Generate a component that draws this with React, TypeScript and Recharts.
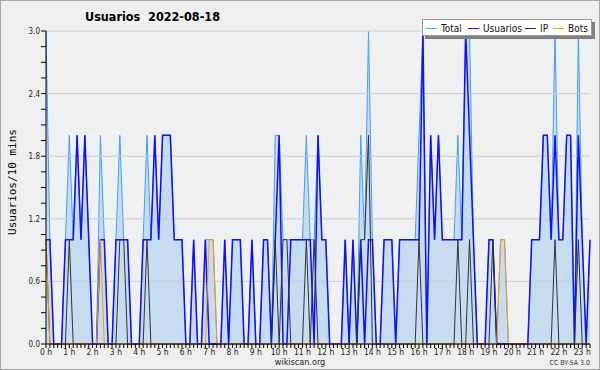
import {
    ComposedChart,
    Area,
    Line,
    XAxis,
    YAxis,
    CartesianGrid,
    ReferenceLine,
} from "recharts";

// 10-minute slots, 0:00 .. 23:20
const TOTAL = [
    3, 1, 0, 0, 0, 1, 2, 1, 2, 1, 2, 1, 0, 0, 2, 1, 0, 0, 1, 2, 1, 1, 0, 0,
    0, 1, 2, 1, 2, 1, 2, 2, 2, 1, 1, 1, 0, 0, 1, 0, 0, 1, 1, 1, 0, 0, 1, 0,
    1, 1, 1, 0, 0, 1, 0, 0, 1, 1, 0, 2, 2, 1, 1, 1, 1, 1, 1, 2, 1, 1, 2, 1,
    1, 0, 0, 0, 0, 1, 0, 1, 0, 2, 1, 3, 1, 0, 0, 1, 1, 1, 0, 1, 1, 1, 1, 1,
    2, 3, 0, 2, 1, 2, 1, 1, 1, 1, 2, 1, 3, 3, 1, 0, 0, 0, 1, 1, 0, 1, 1, 0,
    0, 0, 0, 0, 0, 1, 1, 1, 2, 2, 1, 3, 1, 1, 2, 2, 0, 3, 1, 0, 1,
];
const USUARIOS = [
    1, 1, 0, 0, 0, 1, 1, 1, 2, 1, 2, 1, 0, 0, 1, 1, 0, 0, 1, 1, 1, 1, 0, 0,
    0, 1, 1, 1, 2, 1, 2, 2, 2, 1, 1, 1, 0, 0, 1, 0, 0, 1, 0, 0, 0, 0, 1, 0,
    1, 1, 1, 0, 0, 1, 0, 0, 1, 1, 0, 1, 2, 0, 0, 1, 1, 1, 1, 1, 1, 0, 2, 1,
    1, 0, 0, 0, 0, 1, 0, 1, 0, 1, 0, 1, 1, 0, 0, 1, 1, 1, 0, 1, 1, 1, 1, 1,
    1, 3, 0, 2, 1, 2, 1, 1, 1, 1, 1, 1, 3, 2, 1, 0, 0, 0, 1, 1, 0, 0, 0, 0,
    0, 0, 0, 0, 0, 1, 1, 1, 2, 2, 1, 2, 1, 1, 2, 2, 0, 2, 1, 0, 1,
];
const IP = [
    1, 0, 0, 0, 0, 0, 1, 0, 0, 0, 0, 0, 0, 0, 0, 0, 0, 0, 0, 1, 1, 0, 0, 0,
    0, 0, 1, 0, 0, 0, 0, 0, 0, 0, 0, 0, 0, 0, 0, 0, 0, 0, 0, 0, 0, 0, 0, 0,
    0, 0, 0, 0, 0, 0, 0, 0, 0, 0, 0, 1, 0, 1, 1, 0, 0, 0, 0, 1, 0, 1, 0, 0,
    0, 0, 0, 0, 0, 0, 0, 0, 0, 1, 1, 2, 0, 0, 0, 0, 0, 0, 0, 0, 0, 0, 0, 0,
    1, 0, 0, 0, 0, 0, 0, 0, 0, 0, 1, 0, 0, 1, 0, 0, 0, 0, 0, 1, 0, 0, 0, 0,
    0, 0, 0, 0, 0, 0, 0, 0, 0, 0, 0, 1, 0, 0, 0, 0, 0, 1, 0, 0, 0,
];
const BOTS = [
    1, 0, 0, 0, 0, 0, 0, 0, 0, 0, 0, 0, 0, 0, 1, 0, 0, 0, 0, 0, 0, 0, 0, 0,
    0, 0, 0, 0, 0, 0, 0, 0, 0, 0, 0, 0, 0, 0, 0, 0, 0, 0, 1, 1, 0, 0, 0, 0,
    0, 0, 0, 0, 0, 0, 0, 0, 0, 0, 0, 0, 0, 0, 0, 0, 0, 0, 0, 0, 0, 0, 0, 0,
    0, 0, 0, 0, 0, 0, 0, 0, 0, 0, 0, 0, 0, 0, 0, 0, 0, 0, 0, 0, 0, 0, 0, 0,
    0, 0, 0, 0, 0, 0, 0, 0, 0, 0, 0, 0, 0, 0, 0, 0, 0, 0, 0, 0, 0, 1, 1, 0,
    0, 0, 0, 0, 0, 0, 0, 0, 0, 0, 0, 0, 0, 0, 0, 0, 0, 0, 0, 0, 0,
];

const HOUR_LABELS = [
    "0 h", "1 h", "2 h", "3 h", "4 h", "5 h", "6 h", "7 h", "8 h", "9 h",
    "10 h", "11 h", "12 h", "13 h", "14 h", "15 h", "16 h", "17 h", "18 h",
    "19 h", "20 h", "21 h", "22 h", "23 h",
];
const Y_TICKS = [
    0, 0.15, 0.3, 0.45, 0.6, 0.75, 0.9, 1.05, 1.2, 1.35, 1.5, 1.65, 1.8, 1.95,
    2.1, 2.25, 2.4, 2.55, 2.7, 2.85, 3,
];
const Y_MAJOR = [0.6, 1.2, 1.8, 2.4, 3];

const data = TOTAL.map((t, i) => ({
    slot: i,
    total: t,
    usuarios: USUARIOS[i],
    ip: IP[i],
    bots: BOTS[i],
}));
const slots = data.map((d) => d.slot);

const FONT = '"DejaVu Sans Condensed", "DejaVu Sans", sans-serif';

// eslint-disable-next-line @typescript-eslint/no-explicit-any
function XTick({ x, y, payload }: any) {
    const v = payload.value;
    const isHour = v % 6 === 0;
    return (
        <g>
            <line x1={x} x2={x} y1={y} y2={y + 4} stroke="#000" />
            {isHour && (
                <text
                    x={x}
                    y={y + 11}
                    textAnchor="middle"
                    fontSize={8.5}
                    fontFamily={FONT}
                    fill="#222"
                >
                    {HOUR_LABELS[v / 6]}
                </text>
            )}
        </g>
    );
}

// eslint-disable-next-line @typescript-eslint/no-explicit-any
function YTick({ x, y, payload }: any) {
    const v = payload.value;
    const isMajor = Math.abs(v / 0.6 - Math.round(v / 0.6)) < 1e-6;
    return (
        <g>
            <line x1={x - 5} x2={x} y1={y} y2={y} stroke="#000" />
            {isMajor && (
                <text
                    x={x - 6}
                    y={y + 3}
                    textAnchor="end"
                    fontSize={8}
                    fontFamily={FONT}
                    fill="#222"
                >
                    {v.toFixed(1)}
                </text>
            )}
        </g>
    );
}

// legend entries with their left offset inside the box
const LEGEND = [
    { name: "Total", color: "#3fa0ff", left: 3 },
    { name: "Usuarios", color: "#1010ff", left: 45 },
    { name: "IP", color: "#333333", left: 102 },
    { name: "Bots", color: "#ff9900", left: 130 },
];

export default function App() {
    return (
        <div
            style={{
                position: "absolute",
                left: 0,
                top: 0,
                width: 600,
                height: 370,
                background: "#efefef",
                fontFamily: FONT,
            }}
        >
            <ComposedChart
                width={600}
                height={370}
                data={data}
                margin={{ top: 31, right: 10, bottom: 0, left: 0 }}
            >
                <CartesianGrid
                    horizontal={false}
                    vertical={false}
                    fill="#eef0f2"
                />
                {Y_MAJOR.map((v) => (
                    <ReferenceLine key={v} y={v} stroke="#cdcdcd" />
                ))}
                <XAxis
                    type="number"
                    dataKey="slot"
                    domain={[0, slots.length - 1]}
                    ticks={slots}
                    interval={0}
                    tick={<XTick />}
                    tickLine={false}
                    tickSize={0}
                    tickMargin={0}
                    height={26}
                    axisLine={{ stroke: "#000" }}
                />
                <YAxis
                    type="number"
                    domain={[0, 3]}
                    ticks={Y_TICKS}
                    interval={0}
                    tick={<YTick />}
                    tickLine={false}
                    tickSize={0}
                    tickMargin={0}
                    width={46}
                    axisLine={{ stroke: "#000" }}
                />
                <Area
                    type="linear"
                    dataKey="total"
                    stroke="#3fa0ff"
                    strokeWidth={1}
                    fill="#c5dcf1"
                    fillOpacity={1}
                    dot={false}
                    isAnimationActive={false}
                />
                <Line
                    type="linear"
                    dataKey="usuarios"
                    stroke="#1010ff"
                    strokeWidth={1.5}
                    dot={false}
                    isAnimationActive={false}
                />
                <Line
                    type="linear"
                    dataKey="ip"
                    stroke="#333333"
                    strokeWidth={1}
                    dot={false}
                    isAnimationActive={false}
                />
                <Line
                    type="linear"
                    dataKey="bots"
                    stroke="#ff9900"
                    strokeWidth={1}
                    dot={false}
                    isAnimationActive={false}
                />
            </ComposedChart>

            {/* title */}
            <div
                style={{
                    position: "absolute",
                    left: 85,
                    top: 9,
                    fontSize: 12.5,
                    fontWeight: "bold",
                    color: "#000",
                    whiteSpace: "pre",
                }}
            >
                {"Usuarios  2022-08-18"}
            </div>

            {/* legend box top-right */}
            <div
                style={{
                    position: "absolute",
                    left: 422,
                    top: 19,
                    width: 170,
                    height: 17,
                    background: "#fff",
                    border: "1px solid #999",
                    boxShadow: "3px 3px 0 #808080",
                    fontSize: 10,
                    color: "#111",
                    boxSizing: "border-box",
                }}
            >
                {LEGEND.map((l) => (
                    <span
                        key={l.name}
                        style={{
                            position: "absolute",
                            left: l.left,
                            top: 1,
                            height: 14,
                            display: "flex",
                            alignItems: "center",
                            whiteSpace: "nowrap",
                        }}
                    >
                        <span
                            style={{
                                display: "inline-block",
                                width: 11,
                                height: 1,
                                background: l.color,
                                marginRight: 4,
                            }}
                        />
                        {l.name}
                    </span>
                ))}
            </div>

            {/* y axis title */}
            <div
                style={{
                    position: "absolute",
                    left: 12,
                    top: 182,
                    transform: "translate(-50%, -50%) rotate(-90deg)",
                    fontFamily: '"DejaVu Sans Mono", monospace',
                    fontSize: 11,
                    whiteSpace: "nowrap",
                    color: "#000",
                }}
            >
                Usuarios/10 mins
            </div>

            <div
                style={{
                    position: "absolute",
                    left: 0,
                    width: 600,
                    top: 357,
                    textAlign: "center",
                    fontSize: 9,
                    lineHeight: "11px",
                    color: "#222",
                }}
            >
                wikiscan.org
            </div>
            <div
                style={{
                    position: "absolute",
                    right: 10,
                    top: 359,
                    fontSize: 7,
                    lineHeight: "9px",
                    color: "#333",
                }}
            >
                CC BY-SA 3.0
            </div>

            <div
                style={{
                    position: "absolute",
                    inset: 0,
                    border: "1px solid #a8a8a8",
                    pointerEvents: "none",
                }}
            />
        </div>
    );
}
